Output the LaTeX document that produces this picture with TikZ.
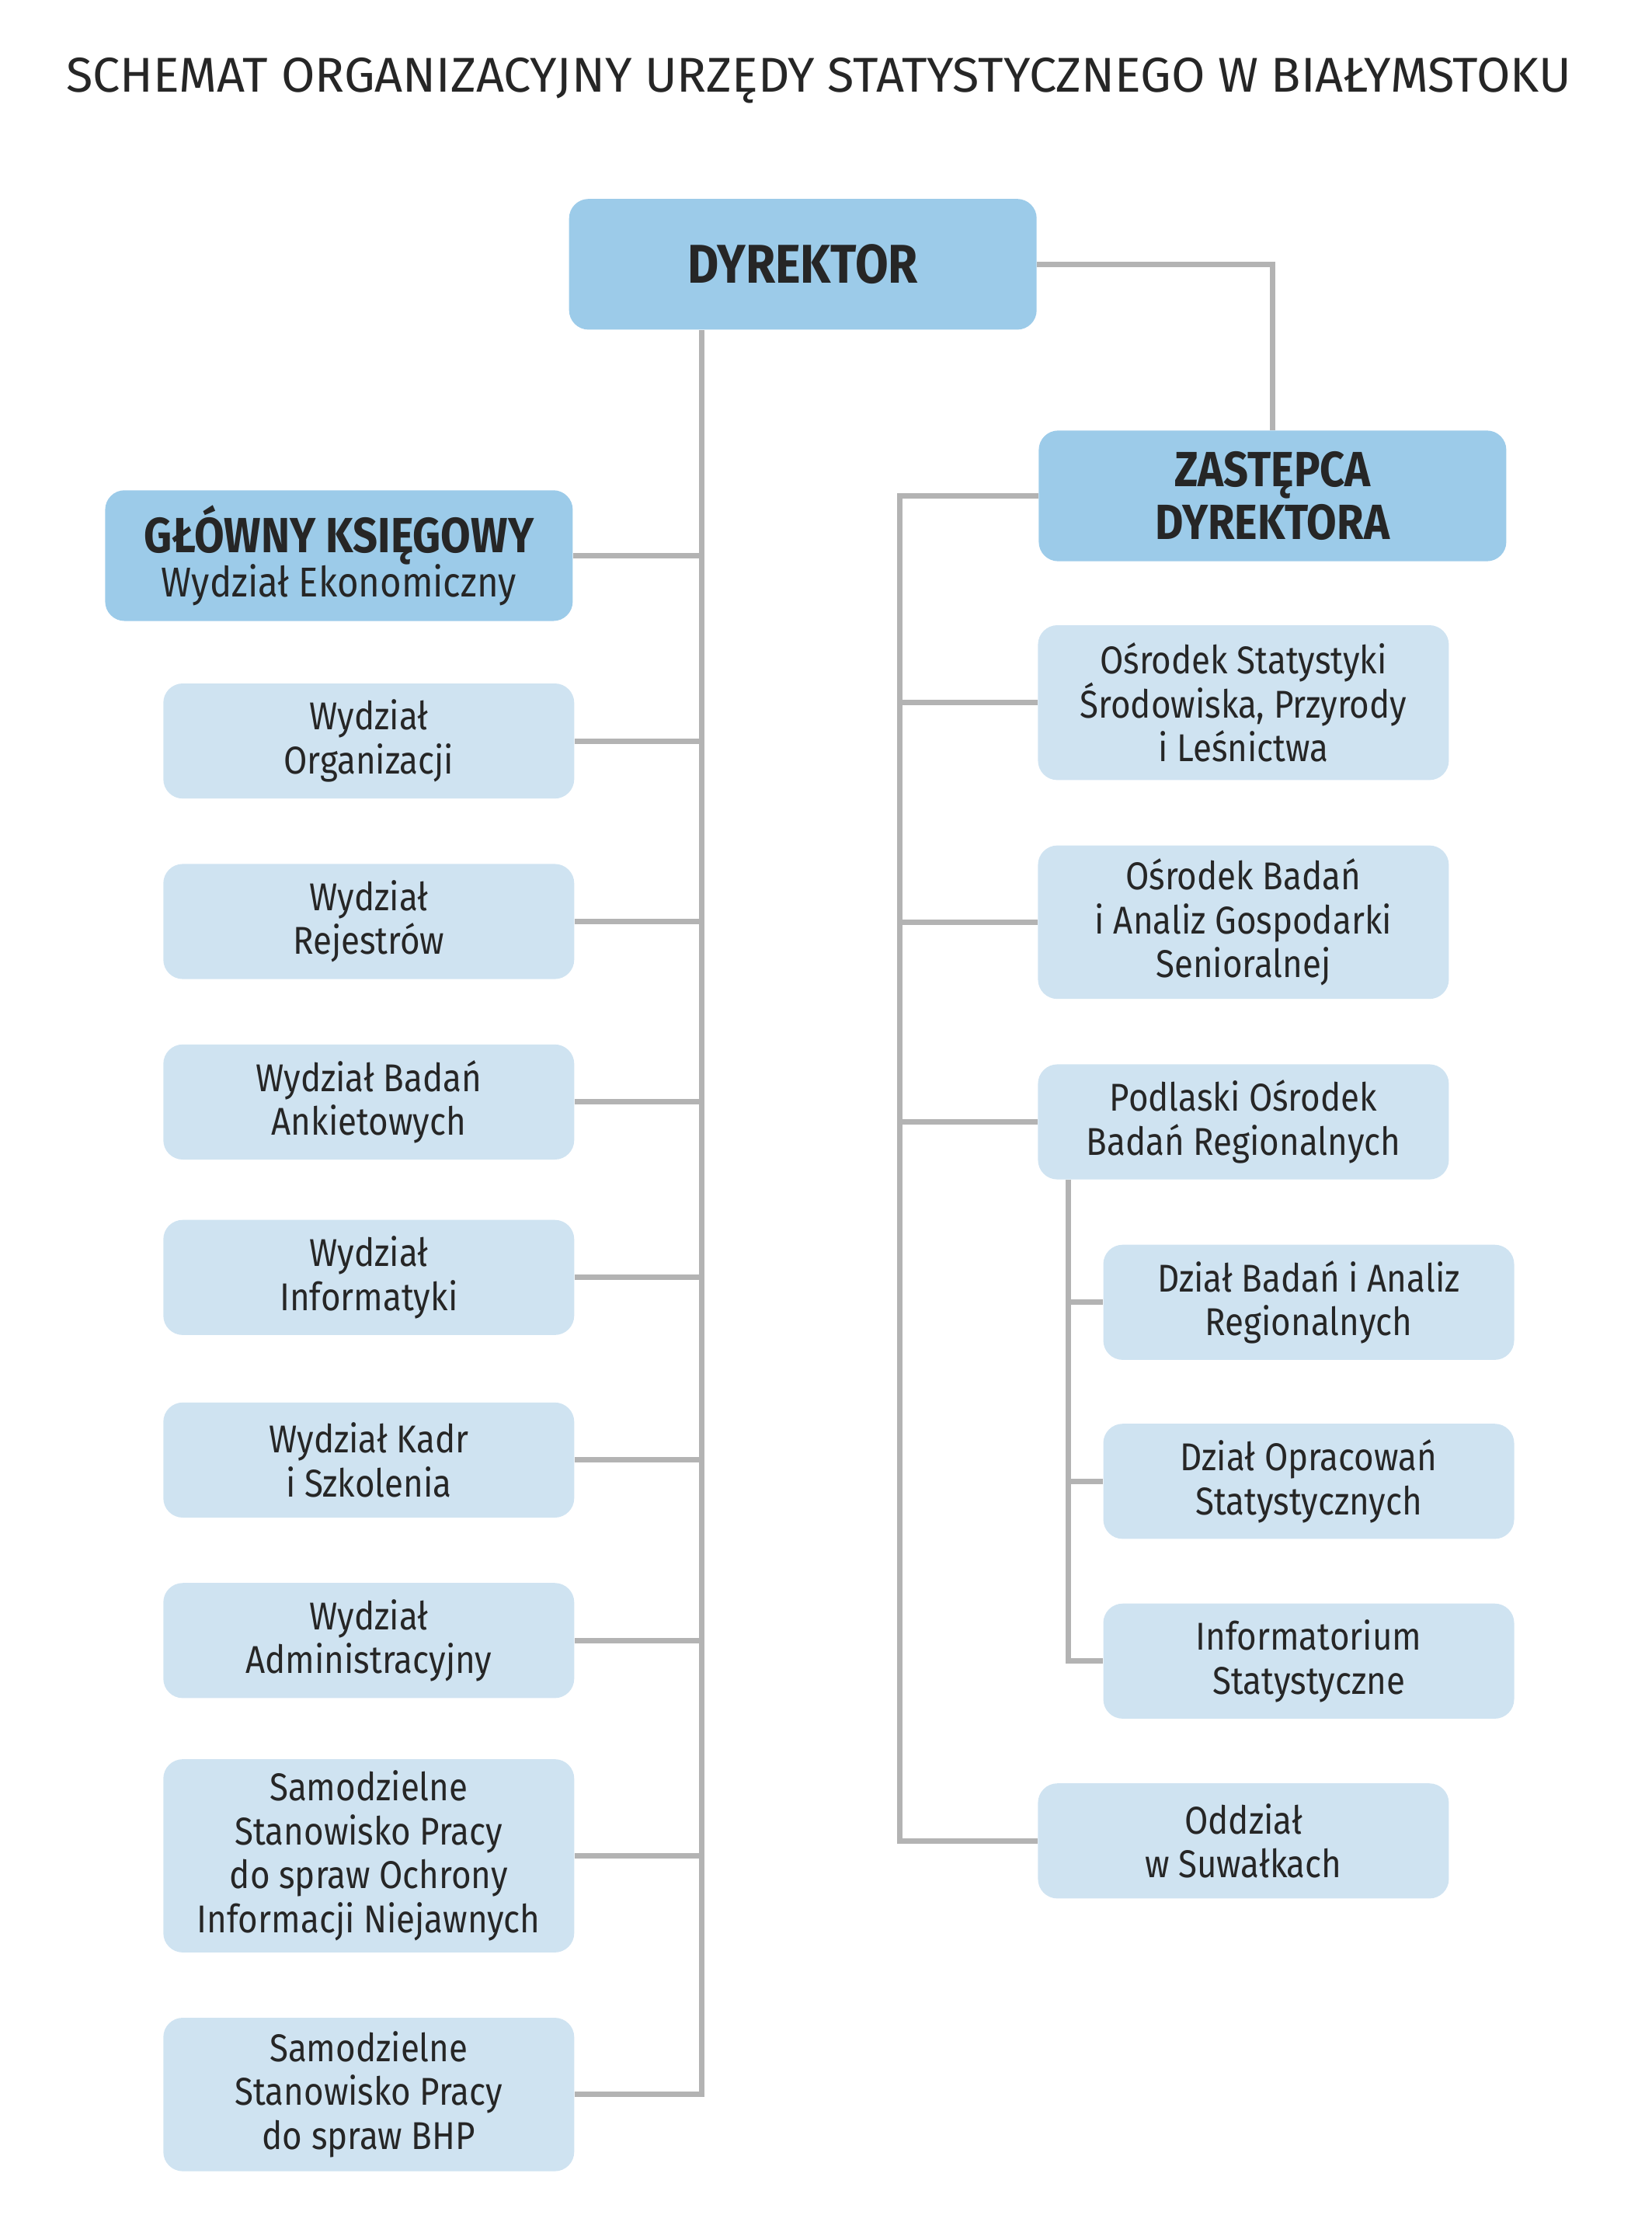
\documentclass[tikz,border=0pt]{standalone}
\usepackage{fontspec}
\setmainfont{Fira Sans}[FakeStretch=0.88]
\newfontfamily\titlefont{Fira Sans}
\usetikzlibrary{positioning}
\definecolor{boxdark}{HTML}{9CCBE9}
\definecolor{boxlight}{HTML}{CFE3F1}
\definecolor{linegray}{HTML}{B3B3B3}
\definecolor{ink}{HTML}{262626}
\begin{document}
\begin{tikzpicture}[y=-1cm,
  head/.style={fill=boxdark,rounded corners=0.25cm,minimum width=6.02cm,minimum height=1.683cm,
    align=center,text=ink,font=\fontsize{18.1}{19.2}\selectfont\bfseries},
  unit/.style={fill=boxlight,rounded corners=0.25cm,minimum width=5.29cm,minimum height=1.482cm,
    align=center,text=ink,font=\fontsize{14.2}{16.1}\selectfont},
  link/.style={draw=linegray,line width=2pt}]
\useasboundingbox (0,0) rectangle (21.26,28.70);
\node[text=ink,font=\titlefont\fontsize{17.9}{20}\selectfont] (title) at (10.54,1.04)
  {SCHEMAT ORGANIZACYJNY URZĘDY STATYSTYCZNEGO W BIAŁYMSTOKU};
% Directors
\node[head,font=\fontsize{20}{22}\selectfont\bfseries] (dyr) at (10.337,3.403) {DYREKTOR};
\node[head] (zas) at (16.384,6.385) {ZASTĘPCA\\DYREKTORA};
\node[head] (gk) at (4.364,7.154) {GŁÓWNY KSIĘGOWY\\[-3pt]{\fontsize{15.3}{16}\selectfont\mdseries Wydział Ekonomiczny}};
% Left column
\node[unit] (org) at (4.748,9.541) {Wydział\\Organizacji};
\node[unit] (rej) at (4.748,11.865) {Wydział\\Rejestrów};
\node[unit] (ank) at (4.748,14.189) {Wydział Badań\\Ankietowych};
\node[unit] (inf) at (4.748,16.448) {Wydział\\Informatyki};
\node[unit] (kadr) at (4.748,18.799) {Wydział Kadr\\i Szkolenia};
\node[unit] (adm) at (4.748,21.123) {Wydział\\Administracyjny};
\node[unit,minimum height=2.488cm] (niej) at (4.748,23.895) {Samodzielne\\Stanowisko Pracy\\do spraw Ochrony\\Informacji Niejawnych};
\node[unit,minimum height=1.976cm] (bhp) at (4.748,26.968) {Samodzielne\\Stanowisko Pracy\\do spraw BHP};
% Right column
\node[unit,minimum height=1.994cm] (ost) at (16.009,9.047) {Ośrodek Statystyki\\Środowiska, Przyrody\\i Leśnictwa};
\node[unit,minimum height=1.976cm] (obad) at (16.009,11.874) {Ośrodek Badań\\i Analiz Gospodarki\\Senioralnej};
\node[unit] (podl) at (16.009,14.445) {Podlaski Ośrodek\\Badań Regionalnych};
\node[unit] (dzb) at (16.85,16.768) {Dział Badań i Analiz\\Regionalnych};
\node[unit] (dzo) at (16.85,19.073) {Dział Opracowań\\Statystycznych};
\node[unit] (infst) at (16.85,21.388) {Informatorium\\Statystyczne};
\node[unit] (odd) at (16.009,23.703) {Oddział\\w Suwałkach};
% Trunks
\coordinate (trunk) at (9.038,0);
\coordinate (rtrunk) at (11.581,0);
\coordinate (strunk) at (13.759,0);
\draw[link] (dyr.east) -| (zas.north);
\draw[link] (dyr.south -| trunk) -- (bhp.east -| trunk) -- (bhp.east);
\foreach \n in {gk,org,rej,ank,inf,kadr,adm,niej}
  \draw[link] (\n.east) -- (\n.east -| trunk);
\draw[link] (zas.west) -- (zas.west -| rtrunk) -- (odd.west -| rtrunk) -- (odd.west);
\foreach \n in {ost,obad,podl}
  \draw[link] (\n.west) -- (\n.west -| rtrunk);
\draw[link] (podl.south -| strunk) -- (infst.west -| strunk) -- (infst.west);
\foreach \n in {dzb,dzo}
  \draw[link] (\n.west) -- (\n.west -| strunk);
\end{tikzpicture}
\end{document}
